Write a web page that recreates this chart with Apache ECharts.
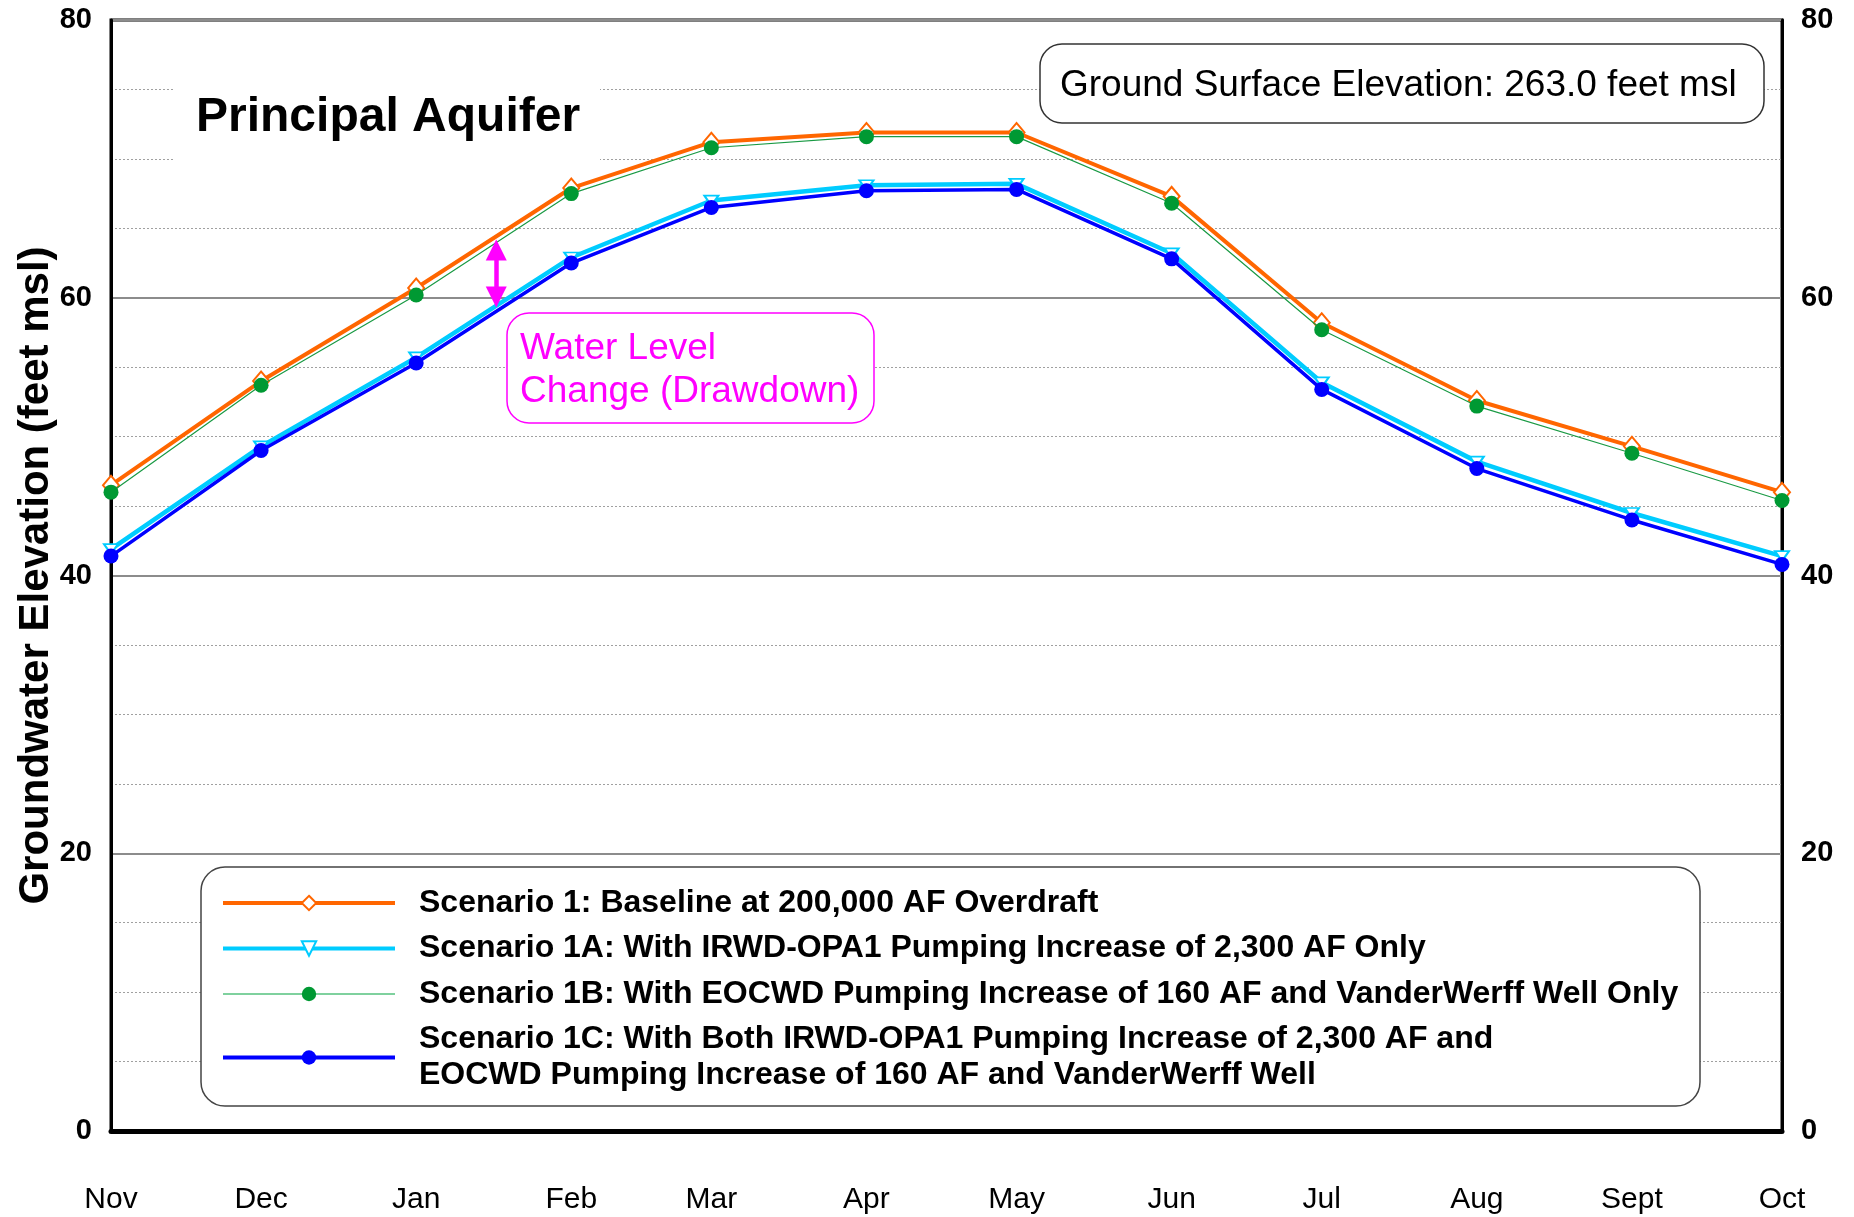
<!DOCTYPE html>
<html>
<head>
<meta charset="utf-8">
<title>Principal Aquifer - Groundwater Elevation</title>
<script src="https://cdn.jsdelivr.net/npm/echarts@6/dist/echarts.min.js"></script>
<style>
  html, body { margin: 0; padding: 0; background: #fff; }
  #chart { width: 1854px; height: 1217px; }
</style>
</head>
<body>
<div id="chart"></div>
<script>
// Month labels of the water year
const months = ['Nov', 'Dec', 'Jan', 'Feb', 'Mar', 'Apr', 'May', 'Jun', 'Jul', 'Aug', 'Sept', 'Oct'];

// Date of each monthly value
const pointDates = ['2009-11-01', '2009-12-01', '2010-01-01', '2010-02-01', '2010-03-01', '2010-04-01',
                    '2010-05-01', '2010-06-01', '2010-07-01', '2010-08-01', '2010-09-01', '2010-10-01'];

// Groundwater elevation (feet msl) per scenario
const scenario1  = [46.5, 54.0, 60.7, 67.9, 71.2, 71.9, 71.9, 67.3, 58.2, 52.6, 49.3, 46.0];
const scenario1A = [41.9, 49.3, 55.7, 62.9, 67.0, 68.1, 68.2, 63.2, 53.9, 48.2, 44.5, 41.4];
const scenario1B = [46.0, 53.7, 60.2, 67.5, 70.8, 71.6, 71.6, 66.8, 57.7, 52.2, 48.8, 45.4];
const scenario1C = [41.4, 49.0, 55.3, 62.5, 66.5, 67.7, 67.8, 62.8, 53.4, 47.7, 44.0, 40.8];

// Scenario names
const names = [
  'Scenario 1: Baseline at 200,000 AF Overdraft',
  'Scenario 1A: With IRWD-OPA1 Pumping Increase of 2,300 AF Only',
  'Scenario 1B: With EOCWD Pumping Increase of 160 AF and VanderWerff Well Only',
  'Scenario 1C: With Both IRWD-OPA1 Pumping Increase of 2,300 AF and\nEOCWD Pumping Increase of 160 AF and VanderWerff Well'
];

// Y axis ticks
const yTicks = [0, 20, 40, 60, 80];

// Drawdown arrow between the baseline and Scenario 1A, mid January
const drawdownArrow = { date: '2010-01-17', top: 64.2, bottom: 59.3 };

const FONT = '"Liberation Sans", Arial, Helvetica, sans-serif';
const DAY = 86400000;
const start = Date.parse(pointDates[0]);
const dayOf = s => Math.round((Date.parse(s) - start) / DAY);
const days = pointDates.map(dayOf);
const lastDay = days[days.length - 1];

// label shown at each sampled day
const labelAtDay = {};
days.forEach((d, i) => { labelAtDay[d] = months[i]; });

const toPairs = arr => arr.map((v, i) => [days[i], v]);

const chart = echarts.init(document.getElementById('chart'), null, { renderer: 'canvas' });

const yAxisCommon = {
  type: 'value',
  min: yTicks[0],
  max: yTicks[yTicks.length - 1],
  interval: yTicks[1] - yTicks[0],
  axisTick: { show: false },
  axisLine: { show: true, lineStyle: { color: '#000', width: 3 } },
  axisLabel: { fontFamily: FONT, fontSize: 29, fontWeight: 'bold', color: '#000', margin: 19 }
};

// arrow heads are centred on the end points, so pull the ends in by half a head
const HEAD = 21;
const headHalf = (HEAD / 2) / 13.9;

const option = {
  backgroundColor: '#fff',
  animation: false,
  grid: {
    left: 111, right: 72, top: 20, bottom: 86,
    show: true, borderColor: '#000', borderWidth: 3,
    outerBoundsMode: 'none'
  },
  xAxis: {
    type: 'value',
    min: 0, max: lastDay, interval: 1,
    axisTick: { show: false },
    splitLine: { show: false },
    axisLine: { show: true, lineStyle: { color: '#000', width: 5 } },
    axisLabel: {
      fontFamily: FONT, fontSize: 30, color: '#000', margin: 54,
      showMinLabel: true, showMaxLabel: true,
      formatter: v => labelAtDay[Math.round(v)] || ''
    }
  },
  yAxis: [
    Object.assign({}, yAxisCommon, {
      position: 'left',
      name: 'Groundwater Elevation (feet msl)',
      nameLocation: 'middle',
      nameRotate: 90,
      nameGap: 54,
      nameMoveOverlap: false,
      nameTextStyle: { fontFamily: FONT, fontSize: 42, fontWeight: 'bold', color: '#000' },
      splitLine: { show: true, lineStyle: { color: '#8c8c8c', width: 2 } },
      minorTick: { show: false, splitNumber: 4 },
      minorSplitLine: { show: true, lineStyle: { color: '#a0a0a0', width: 1, type: [2, 2] } }
    }),
    Object.assign({}, yAxisCommon, {
      position: 'right',
      splitLine: { show: false }
    })
  ],
  legend: {
    orient: 'vertical',
    left: 221,
    top: 885,
    padding: 0,
    itemWidth: 172,
    itemHeight: 18,
    itemGap: 9.5,
    z: 10,
    textStyle: {
      fontFamily: FONT, fontSize: 32, fontWeight: 'bold', color: '#000',
      lineHeight: 36, padding: [0, 0, 0, 19]
    },
    data: [
      { name: names[0], lineStyle: { width: 4 }, itemStyle: { borderWidth: 3 } },
      { name: names[1], lineStyle: { width: 4 } },
      { name: names[2], lineStyle: { color: '#7fd19e', width: 1.8 } },
      { name: names[3], lineStyle: { width: 4 } }
    ]
  },
  series: [
    {
      name: names[0],
      type: 'line',
      data: toPairs(scenario1),
      symbol: 'emptyDiamond',
      symbolSize: [16, 19],
      color: '#FF6600',
      lineStyle: { color: '#FF6600', width: 4 },
      itemStyle: { color: '#FF6600', borderColor: '#FF6600', borderWidth: 3 },
      z: 2,
      markLine: {
        silent: true,
        symbol: ['triangle', 'triangle'],
        symbolSize: HEAD,
        label: { show: false },
        emphasis: { disabled: true },
        itemStyle: { color: '#FF00FF' },
        lineStyle: { color: '#FF00FF', width: 4.5, type: 'solid' },
        data: [[
          { coord: [dayOf(drawdownArrow.date), drawdownArrow.top - headHalf] },
          { coord: [dayOf(drawdownArrow.date), drawdownArrow.bottom + headHalf] }
        ]]
      }
    },
    {
      name: names[1],
      type: 'line',
      data: toPairs(scenario1A),
      symbol: 'emptyTriangle',
      symbolRotate: 180,
      symbolSize: [14, 10],
      color: '#00CCFF',
      lineStyle: { color: '#00CCFF', width: 4.5 },
      itemStyle: { color: '#00CCFF', borderColor: '#00CCFF', borderWidth: 1.5 },
      z: 3
    },
    {
      name: names[2],
      type: 'line',
      data: toPairs(scenario1B),
      symbol: 'circle',
      symbolSize: [15, 15],
      color: '#009933',
      lineStyle: { color: '#1a9a44', width: 1.2 },
      itemStyle: { color: '#009933' },
      z: 4
    },
    {
      name: names[3],
      type: 'line',
      data: toPairs(scenario1C),
      symbol: 'circle',
      symbolSize: [15, 15],
      color: '#0000FF',
      lineStyle: { color: '#0000FF', width: 3.5 },
      itemStyle: { color: '#0000FF' },
      z: 5
    }
  ],
  graphic: {
    elements: [
      // title panel
      {
        type: 'rect', z: 6,
        shape: { x: 175, y: 62, width: 425, height: 110 },
        style: { fill: '#fff', stroke: null }
      },
      {
        type: 'text', z: 7, x: 196, y: 118,
        style: {
          text: 'Principal Aquifer', fill: '#000',
          font: 'bold 48px ' + FONT, verticalAlign: 'middle', align: 'left'
        }
      },
      // ground surface note
      {
        type: 'rect', z: 6,
        shape: { x: 1040, y: 44, width: 724, height: 79, r: 22 },
        style: { fill: '#fff', stroke: '#333', lineWidth: 1.5 }
      },
      {
        type: 'text', z: 7, x: 1060, y: 86,
        style: {
          text: 'Ground Surface Elevation: 263.0 feet msl', fill: '#000',
          font: '37px ' + FONT, verticalAlign: 'middle', align: 'left'
        }
      },
      // drawdown note
      {
        type: 'rect', z: 6,
        shape: { x: 507, y: 313, width: 367, height: 110, r: 22 },
        style: { fill: '#fff', stroke: '#FF00FF', lineWidth: 1.5 }
      },
      {
        type: 'text', z: 7, x: 520, y: 370,
        style: {
          text: 'Water Level\nChange (Drawdown)', fill: '#FF00FF',
          font: '37px ' + FONT, lineHeight: 43, verticalAlign: 'middle', align: 'left'
        }
      },
      // legend panel
      {
        type: 'rect', z: 6,
        shape: { x: 201, y: 867, width: 1499, height: 239, r: 24 },
        style: { fill: '#fff', stroke: '#444', lineWidth: 1.5 }
      }
    ]
  }
};

chart.setOption(option);
</script>
</body>
</html>
